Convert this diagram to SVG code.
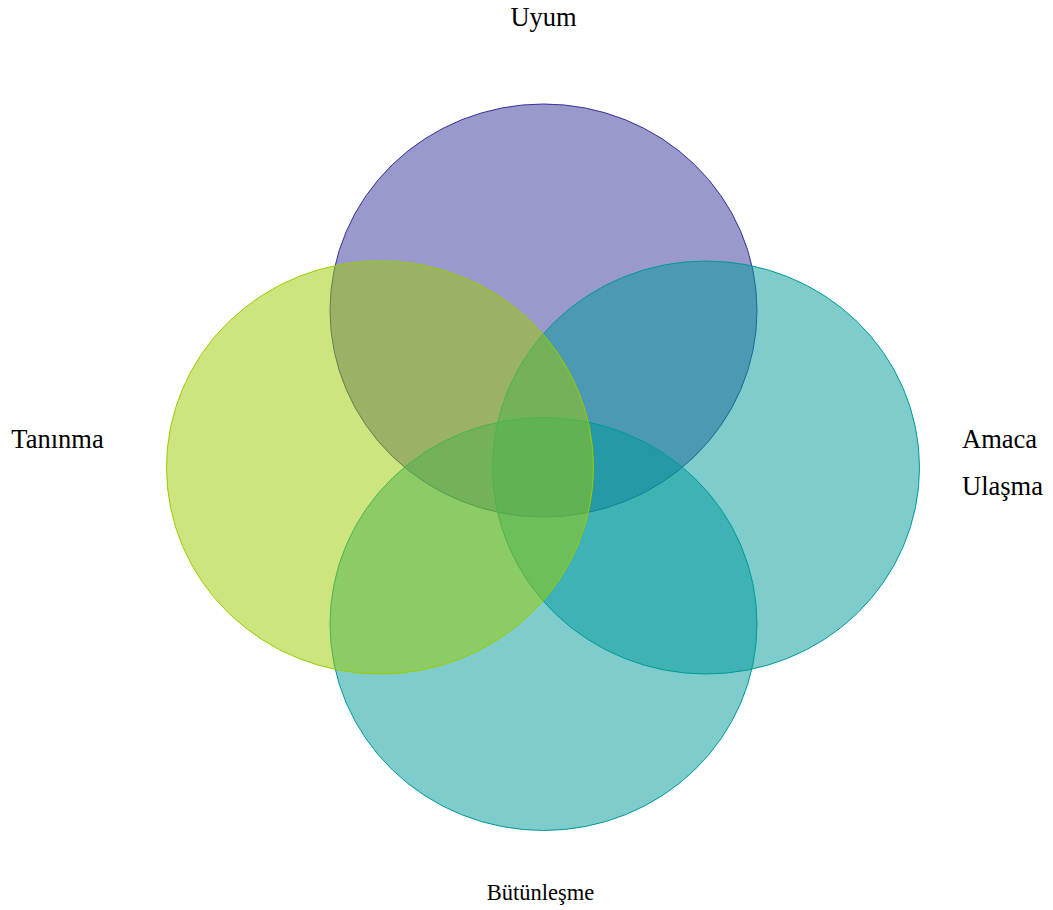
<svg xmlns="http://www.w3.org/2000/svg" width="1053" height="910" viewBox="0 0 1053 910">
<style>
.c{fill-opacity:0.5;stroke-width:1}
.t{font-family:"Liberation Serif",serif;fill:#000}
</style>
<rect width="1053" height="910" fill="#fff"/>
<g id="node-uyum">
<ellipse class="c" cx="543.5" cy="310.5" rx="213.5" ry="206.5" fill="#333399" stroke="#333399"/>
</g>
<g id="node-butunlesme">
<ellipse class="c" cx="543.5" cy="624" rx="213.5" ry="206.5" fill="#009999" stroke="#009999"/>
</g>
<g id="node-amaca">
<ellipse class="c" cx="706" cy="467.5" rx="213.5" ry="206.5" fill="#009999" stroke="#009999"/>
</g>
<g id="node-taninma">
<ellipse class="c" cx="380" cy="467.5" rx="213.5" ry="206.5" fill="#99cc00" stroke="#99cc00"/>
</g>
<g id="labels">
<text class="t" x="543.5" y="26" font-size="26.5" text-anchor="middle">Uyum</text>
<text class="t" x="57.5" y="448" font-size="26.5" text-anchor="middle">Tanınma</text>
<text class="t" x="962" y="448" font-size="26.5">Amaca</text>
<text class="t" x="962" y="495" font-size="26.5">Ulaşma</text>
<text class="t" x="540.5" y="900" font-size="22.5" text-anchor="middle">Bütünleşme</text>
</g>
<g id="connectors"/>
</svg>
